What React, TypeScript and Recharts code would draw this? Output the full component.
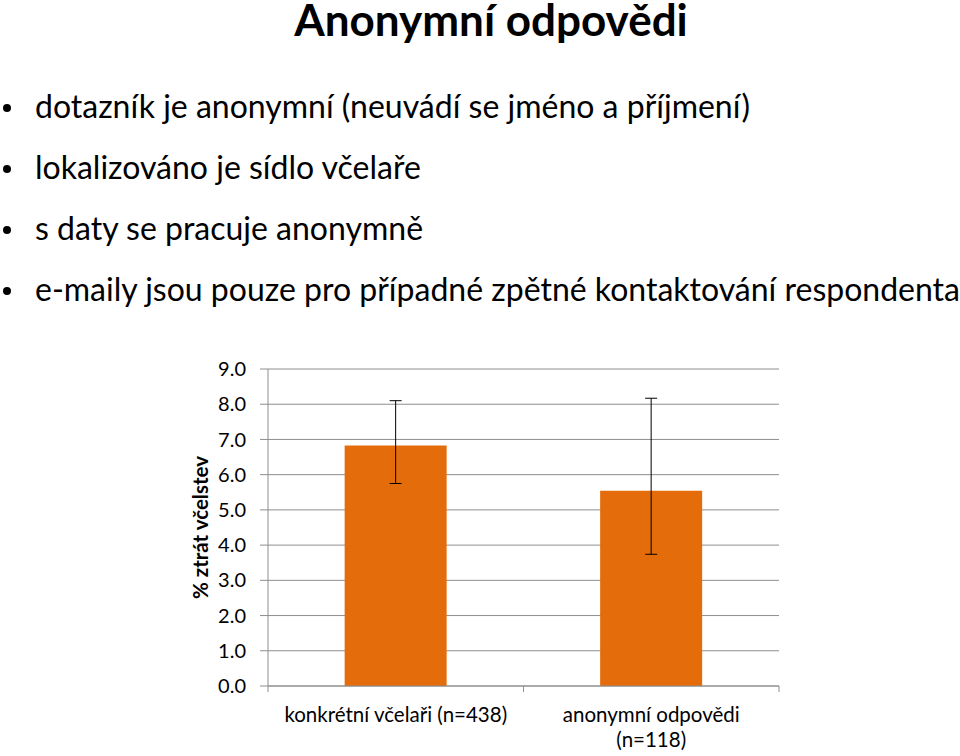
import React from "react";
import {
  BarChart, Bar, XAxis, YAxis, CartesianGrid, ErrorBar,
} from "recharts";

const title = "Anonymní odpovědi";
const bullets = [
  "dotazník je anonymní (neuvádí se jméno a příjmení)",
  "lokalizováno je sídlo včelaře",
  "s daty se pracuje anonymně",
  "e-maily jsou pouze pro případné zpětné kontaktování respondenta",
];

const categories = ["konkrétní včelaři (n=438)", "anonymní odpovědi\n(n=118)"];
const lossPct = [6.83, 5.54];
const errLow = [5.75, 3.74];
const errHigh = [8.1, 8.17];
const yTicks = [0, 1, 2, 3, 4, 5, 6, 7, 8, 9];
const yLabel = "% ztrát včelstev";

const data = categories.map((name, i) => ({
  name,
  value: lossPct[i],
  err: [lossPct[i] - errLow[i], errHigh[i] - lossPct[i]],
}));

const FONT = "Lato, 'Noto Sans', sans-serif";
const AXIS_GRAY = "#8e8e8e";

function CategoryTick(props: any) {
  const { x, y, payload, index, visibleTicksCount, width } = props;
  const band = width && visibleTicksCount ? width / visibleTicksCount : 255.5;
  const lines = String(payload.value).split("\n");
  const left = x - band / 2;
  const right = x + band / 2;
  const axisY = y - 8;
  return (
    <g>
      <line x1={left} x2={left} y1={axisY} y2={axisY + 6} stroke={AXIS_GRAY} />
      {index === visibleTicksCount - 1 && (
        <line x1={right} x2={right} y1={axisY} y2={axisY + 6} stroke={AXIS_GRAY} />
      )}
      <text x={x} y={axisY + 36} textAnchor="middle" fontFamily={FONT} fontSize={20.5} fill="#000">
        {lines.map((l, i) => (
          <tspan key={i} x={x} dy={i === 0 ? 0 : 25}>{l}</tspan>
        ))}
      </text>
    </g>
  );
}

function YTitle(props: any) {
  const { viewBox } = props;
  const cx = viewBox.x + 20;
  const cy = viewBox.y + viewBox.height / 2;
  return (
    <text
      x={cx} y={cy} transform={`rotate(-90 ${cx} ${cy})`}
      textAnchor="middle" dominantBaseline="central"
      fontFamily={FONT} fontWeight={700} fontSize={20.5} fill="#000"
    >
      {yLabel}
    </text>
  );
}

export default function App() {
  return (
    <div style={{ position: "relative", width: 960, height: 756, background: "#fff", overflow: "hidden" }}>
      <style>{`body{margin:0}`}</style>
      <svg width={960} height={340} style={{ position: "absolute", left: 0, top: 0 }}>
        <text x={491} y={36} textAnchor="middle" fontFamily={FONT} fontWeight={700} fontSize={44} fill="#000">
          {title}
        </text>
        {bullets.map((b, i) => {
          const base = 118 + i * 61;
          return (
            <g key={i}>
              <circle cx={7} cy={base - 10} r={4} fill="#000" />
              <text x={35} y={base} fontFamily={FONT} fontSize={32} fill="#000">{b}</text>
            </g>
          );
        })}
      </svg>
      <div style={{ position: "absolute", left: 0, top: 340 }}>
        <BarChart
          width={960}
          height={416}
          data={data}
          margin={{ top: 29, right: 181, bottom: 10, left: 180 }}
          barCategoryGap="30%"
        >
          <CartesianGrid horizontal vertical={false} stroke={AXIS_GRAY} strokeWidth={1} />
          <XAxis
            dataKey="name"
            height={60}
            axisLine={{ stroke: AXIS_GRAY }}
            tickLine={false}
            tickSize={0}
            tickMargin={8}
            interval={0}
            tick={<CategoryTick />}
          />
          <YAxis
            width={88}
            domain={[0, 9]}
            ticks={yTicks}
            interval={0}
            tickFormatter={(v: number) => v.toFixed(1)}
            axisLine={{ stroke: AXIS_GRAY }}
            tickLine={{ stroke: AXIS_GRAY }}
            tickSize={8}
            tickMargin={14}
            tick={{ fontFamily: FONT, fontSize: 20, fill: "#000" }}
            label={<YTitle />}
          />
          <Bar dataKey="value" fill="#E46C0A" isAnimationActive={false}>
            <ErrorBar dataKey="err" direction="y" width={6} stroke="#000" strokeWidth={1} isAnimationActive={false} />
          </Bar>
        </BarChart>
      </div>
    </div>
  );
}
